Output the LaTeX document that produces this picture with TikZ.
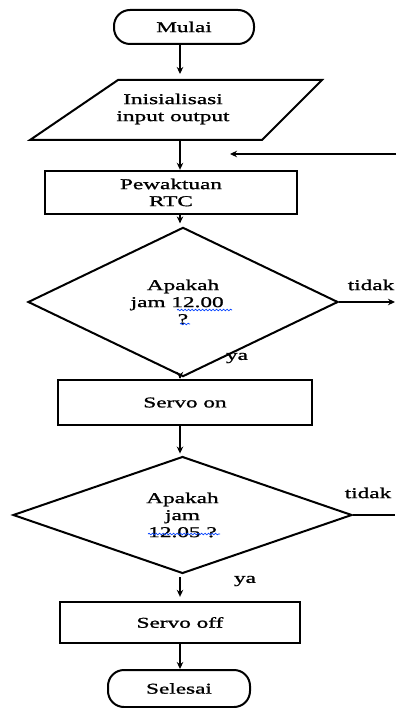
\documentclass[tikz,border=0pt]{standalone}
\usepackage{fontspec}
\setmainfont{Liberation Serif}[FakeStretch=1.55,FakeBold=1.2]
\usetikzlibrary{shapes.geometric,arrows.meta,decorations.pathmorphing}
\begin{document}
\begin{tikzpicture}[x=1pt,y=-1pt,
  every node/.style={font=\fontsize{15}{17}\selectfont},
  term/.style={draw, line width=2pt, rounded corners=16pt, inner sep=0pt},
  procbox/.style={draw, line width=2.4pt, inner sep=0pt, align=center},
  iobox/.style={draw, line width=2pt, line join=miter},
  dec/.style={draw, diamond, line width=2pt, inner sep=0pt, align=center},
  txt/.style={inner sep=0pt, align=center},
  arr/.style={line width=1.5pt, -{Stealth[length=7pt,width=6.5pt]}},
  plain/.style={line width=1.5pt},
  wave/.style={draw=blue!75!cyan, line width=0.7pt, decorate, decoration={snake, amplitude=0.8pt, segment length=3.5pt}}
]
\useasboundingbox[fill=white] (0,0) rectangle (396,708);
\coordinate (axis) at (180,0);
\coordinate (redge) at (395,0);

% Mulai
\node[term, minimum width=140pt, minimum height=34pt] (mulai) at (184,27) {Mulai};

% Inisialisasi (parallelogram)
\draw[iobox] (118,80) -- (322,80) -- (262,140) -- (30,140) -- cycle;
\node[txt] (init) at (173,109) {Inisialisasi\\input output};
\coordinate (initT) at (180,80);
\coordinate (initB) at (180,140);

% Pewaktuan RTC
\node[procbox, minimum width=252pt, minimum height=43pt] (rtc) at (171,192.5) {Pewaktuan\\RTC};

% Decision 1
\node[dec, minimum width=310pt, minimum height=110pt] (d1) at (183,302) {Apakah\\jam 12.00\phantom{0}\\?};

% Servo on
\node[procbox, minimum width=254pt, minimum height=45pt] (son) at (185,402.5) {Servo on};

% Decision 2
\node[dec, minimum width=339pt, minimum height=114pt] (d2) at (182.5,515) {Apakah\\jam\\12.05 ?};

% Servo off
\node[procbox, minimum width=240pt, minimum height=41pt] (soff) at (180,622.5) {Servo off};

% Selesai
\node[term, minimum width=142pt, minimum height=37pt] (selesai) at (179,688.5) {Selesai};

% labels
\node[txt] (tidak1) at (371,285) {tidak};
\node[txt] (tidak2) at (368,493) {tidak};
\node[txt] (ya1) at (237,358) {ya};
\node[txt] (ya2) at (245,581) {ya};

% connectors
\draw[arr, shorten >=6pt] (mulai.south -| axis) -- (initT);
\draw[arr] (initB) -- (rtc.north -| axis);
\draw[arr, shorten >=3pt] (rtc.south -| axis) -- (d1.north -| axis);
\draw[arr] (d1.south -| axis) -- (son.north -| axis);
\draw[arr, shorten >=2pt] (son.south -| axis) -- (d2.north -| axis);
\draw[arr, shorten <=3pt, shorten >=4pt] (d2.south -| axis) -- (soff.north -| axis);
\draw[arr] (soff.south -| axis) -- (selesai.north -| axis);
\draw[arr] (d1.east) -- (d1.east -| redge);
\draw[plain] (d2.east) -- (d2.east -| redge);
\coordinate (fbS) at (396,154);
\coordinate (fbE) at (230,154);
\draw[arr, line width=1.2pt] (fbS) -- (fbE);

% spell-check squiggles
\draw[wave] (177,310) -- (232,310);
\draw[wave] (180,324) -- (190,324);
\draw[wave] (148,534) -- (220,534);
\end{tikzpicture}
\end{document}
